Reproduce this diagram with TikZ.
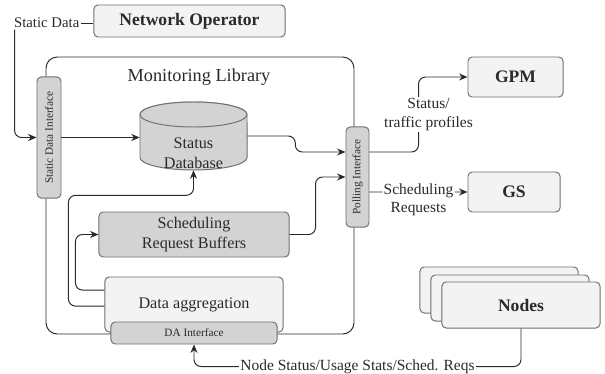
\documentclass[tikz,border=0pt]{standalone}
\usepackage{graphicx}
\usepackage{fontspec}
\setmainfont{Liberation Serif}
\usetikzlibrary{arrows.meta}

\definecolor{boxline}{HTML}{707070}
\definecolor{lightfill}{HTML}{F3F3F3}
\definecolor{grayfill}{HTML}{D3D3D3}
\definecolor{inktext}{HTML}{2A2A2A}

\tikzset{
  lightbox/.style={draw=boxline, fill=lightfill, rounded corners=3pt, line width=0.7pt},
  graybox/.style={draw=boxline, fill=grayfill, rounded corners=3pt, line width=0.7pt},
  conn/.style={->, draw=inktext, line width=0.7pt, rounded corners=5pt},
  plainfont/.style={font=\fontsize{11.5}{14}\selectfont},
  boldfont/.style={font=\fontsize{12.5}{15}\selectfont\bfseries},
  smallfont/.style={font=\fontsize{8}{9}\selectfont},
  lbl/.style={fill=white, inner sep=1pt, align=center, font=\fontsize{11}{13}\selectfont}
}

\begin{document}
\begin{tikzpicture}[x=0.025cm, y=-0.025cm, >={Stealth[length=6pt,width=5pt]}, text=inktext]
\useasboundingbox (0,0) rectangle (605,374);

% monitoring library frame
\draw[draw=inktext, line width=0.7pt, rounded corners=8pt] (46,57) rectangle (354,334);
\node[font=\fontsize{13}{15}\selectfont] (monlbl) at (199,77) {Monitoring Library};

% outside
\node[lightbox, boldfont, minimum width=4.78cm, minimum height=0.8cm] (netop) at (189.5,21) {Network Operator};
\node[anchor=east, inner sep=1pt, font=\fontsize{10.5}{12}\selectfont] (sdlbl) at (81,23) {Static Data};
\node[lightbox, boldfont, minimum width=2.375cm, minimum height=1cm] (gpm) at (515.5,77) {GPM};
\node[lightbox, boldfont, minimum width=2.3cm, minimum height=1cm] (gs) at (514,192) {GS};
\node[lightbox, minimum width=3.95cm, minimum height=1.15cm] (nodesc) at (499,290) {};
\node[lightbox, minimum width=3.95cm, minimum height=1.15cm] (nodesb) at (510,298) {};
\node[lightbox, boldfont, minimum width=3.95cm, minimum height=1.15cm] (nodes) at (521,305) {Nodes};

% inside
\node[graybox, smallfont, minimum width=0.6cm, minimum height=3.025cm, inner sep=0pt] (sdi) at (49,137.5) {\rotatebox{90}{Static Data Interface}};
\node[graybox, smallfont, minimum width=0.575cm, minimum height=2.5cm, inner sep=0pt] (poll) at (357.5,177) {\rotatebox{90}{Polling Interface}};
% status database drum
\draw[draw=boxline, fill=grayfill, line width=0.7pt] (140,114.5) -- (140,157.5)
  arc[start angle=180, end angle=360, x radius=1.3375cm, y radius=0.3125cm] -- (247,114.5)
  arc[start angle=0, end angle=180, x radius=1.3375cm, y radius=0.3125cm] -- cycle;
\draw[draw=boxline, fill=grayfill, line width=0.7pt] (193.5,114.5) ellipse [x radius=1.3375cm, y radius=0.3125cm];
\node[minimum width=2.675cm, minimum height=1.7cm] (db) at (193.5,136) {};
\node[plainfont, align=center] (dbtxt) at (193.5,153) {Status\\Database};
\node[graybox, plainfont, align=center, minimum width=4.75cm, minimum height=1.125cm] (srb) at (194,234.5) {Scheduling\\Request Buffers};
\node[lightbox, plainfont, minimum width=4.45cm, minimum height=1.375cm] (dagg) at (194,304.5) {Data aggregation};
\node[graybox, smallfont, minimum width=4.15cm, minimum height=0.55cm] (dai) at (194,333) {DA Interface};

% connectors
\draw[draw=inktext, line width=0.7pt] (sdlbl.east) -- (sdlbl.east -| netop.west);
\draw[conn] ([xshift=1.5pt]sdlbl.south west) |- (sdi.west);
\draw[conn] (sdi.east) -- (sdi.east -| db.west);
\draw[conn] (db.east) -- ++(1.2cm,0) |- ([yshift=0.625cm]poll.west);
\draw[conn] (srb.east) -- ++(0.65cm,0) |- (poll.west);
\draw[conn] ([yshift=0.36cm]dagg.west) -- ++(-0.725cm,0) |- (srb.west);
\draw[conn] ([yshift=-0.04cm]dagg.west) -- ++(-0.9cm,0) |- ([yshift=-0.625cm]db.south) -- (db.south);
\draw[conn] ([yshift=0.625cm]poll.east) -- ++(1.225cm,0)
  |- node[lbl, pos=0.25, xshift=0.25cm] {Status/\\traffic profiles} (gpm.west);
\draw[conn] ([yshift=-0.375cm]poll.east) -- node[lbl, yshift=-0.2cm] {Scheduling\\Requests} (gs.west);
\draw[conn] (nodes.south) -- ++(0,-0.95cm)
  -| node[lbl, pos=0.25] {Node Status/Usage Stats/Sched. Reqs} (dai.south);
\end{tikzpicture}
\end{document}
